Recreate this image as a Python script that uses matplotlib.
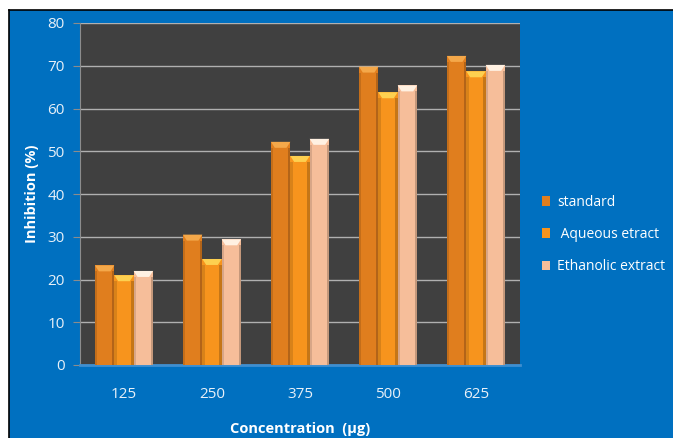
import matplotlib.pyplot as plt
import numpy as np
from matplotlib.patches import Rectangle, Polygon
from matplotlib import font_manager

# values
concentrations = ['125', '250', '375', '500', '625']
standard = [23.3, 30.5, 52.2, 69.8, 72.3]
aqueous = [21.0, 24.8, 48.9, 63.8, 68.7]
ethanolic = [22.0, 29.4, 52.9, 65.4, 70.2]
series_names = ['standard', ' Aqueous etract', 'Ethanolic extract']
yticks = [0, 10, 20, 30, 40, 50, 60, 70, 80]

names = {f.name for f in font_manager.fontManager.ttflist}
if 'Liberation Sans Narrow' in names:
    plt.rcParams['font.family'] = ['Liberation Sans Narrow', 'DejaVu Sans']
else:
    plt.rcParams['font.family'] = ['Open Sans', 'DejaVu Sans']

blue = '#0070C0'
colors = ['#E07E1E', '#F7941D', '#F6BE9A']
caps = ['#F4A84A', '#FDD050', '#FFF1E2']

fig = plt.figure(figsize=(6.73, 4.38), dpi=100)
fig.patch.set_facecolor('white')

# blue panel with black top / left border
x0, y1 = 9 / 673, 1 - 10 / 438
fig.add_artist(Rectangle((x0, 0), 1.2, y1, transform=fig.transFigure,
                         facecolor=blue, edgecolor='none', zorder=-10))
fig.add_artist(plt.Line2D([x0, 1], [y1, y1], color='black', lw=1.2,
                          transform=fig.transFigure))
fig.add_artist(plt.Line2D([x0, x0], [0, y1], color='black', lw=1.2,
                          transform=fig.transFigure))

ax = fig.add_axes([80 / 673, 73 / 438, 440 / 673, 342 / 438])
ax.set_facecolor('#404040')

x = np.arange(len(concentrations))
w = 0.22
data = [standard, aqueous, ethanolic]
handles = []
for i, vals in enumerate(data):
    pos = x + (i - 1) * w
    bars = ax.bar(pos, vals, width=w, color=colors[i], edgecolor='none', zorder=3)
    handles.append(bars)
    for b in bars:
        bx, bw, bh = b.get_x(), b.get_width(), b.get_height()
        d = 1.4
        # bevel cap on top
        ax.add_patch(Polygon([(bx, bh), (bx + bw, bh), (bx + bw * 0.8, bh - d), (bx + bw * 0.2, bh - d)],
                             closed=True, facecolor=caps[i], edgecolor='none', zorder=5))
        # darker edges for rounded look
        ax.add_patch(Rectangle((bx, 0), bw * 0.12, bh - d, facecolor='black', alpha=0.12,
                               edgecolor='none', zorder=5))
        ax.add_patch(Rectangle((bx + bw * 0.88, 0), bw * 0.12, bh - d, facecolor='black', alpha=0.2,
                               edgecolor='none', zorder=5))

ax.set_xlim(-0.5, len(concentrations) - 0.5)
ax.set_ylim(0, 80)
ax.set_yticks(yticks)
ax.set_xticks(x)
ax.set_xticklabels(concentrations)
ax.yaxis.grid(True, color='#B0B0B0', lw=1)
ax.set_axisbelow(True)
for s in ['top', 'right']:
    ax.spines[s].set_visible(False)
ax.spines['left'].set_color('#8C8C8C')
ax.spines['bottom'].set_color('#3F8FD0')
ax.spines['bottom'].set_linewidth(2)
ax.tick_params(axis='y', colors='#8C8C8C', length=5, labelcolor='#E8F0F8', labelsize=11, pad=6)
ax.tick_params(axis='x', length=0, labelcolor='#E8F0F8', labelsize=11, pad=16)

ax.set_ylabel('Inhibition (%)', color='white', fontweight='bold', fontsize=10.5, labelpad=6)
ax.set_xlabel('Concentration  (µg)', color='white', fontweight='bold', fontsize=10.5, labelpad=14)

fig.legend(handles, series_names, loc='upper left', bbox_to_anchor=(529 / 673, 256 / 438),
           frameon=False, labelcolor='white', fontsize=10, handlelength=0.6,
           handleheight=0.7, handletextpad=0.5, labelspacing=1.25)

fig.savefig('out.png', dpi=100, facecolor=fig.get_facecolor())
